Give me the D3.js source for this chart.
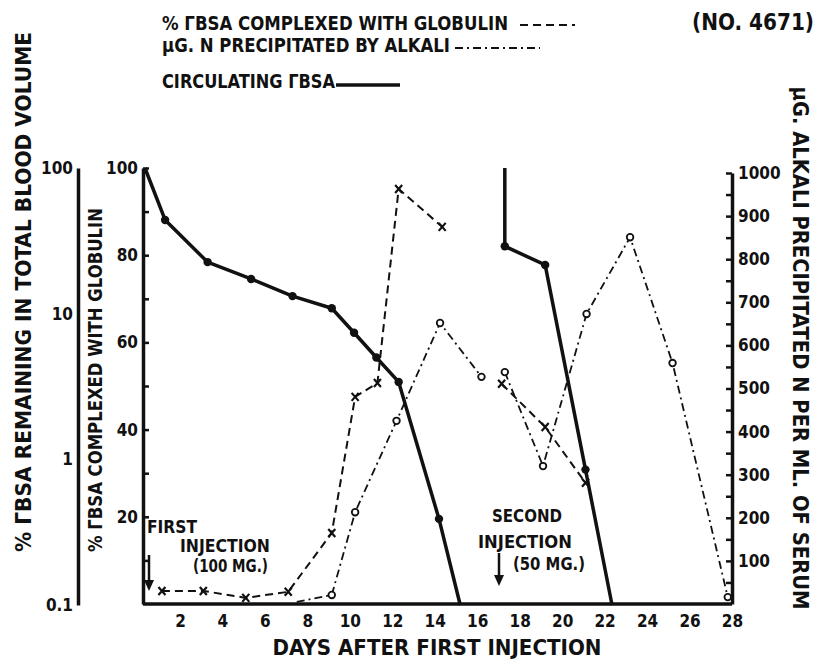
<!DOCTYPE html>
<html>
<head>
<meta charset="utf-8">
<script src="https://cdn.jsdelivr.net/npm/d3@7"></script>
<style>
  body { margin: 0; background: #fff; }
  svg { display: block; }
  text { font-family: 'Liberation Sans Narrow', 'DejaVu Sans Condensed', 'Liberation Sans', sans-serif; font-weight: bold; fill: #111; }
</style>
</head>
<body>
<div id="chart"></div>
<script>
// Circulating I*BSA, % remaining (log axis), two injections
const circDays1 = [0.35, 1.3, 3.3, 5.35, 7.3, 9.15, 10.2, 11.25, 12.3, 14.2, 15.2];
const circPct1 = [100, 44, 22.6, 17.3, 13.2, 10.9, 7.4, 5.0, 3.4, 0.39, 0.1];
const circDays2 = [17.3, 17.3, 19.2, 21.1, 22.35];
const circPct2 = [100, 29, 21.6, 0.85, 0.1];

// % complexed with globulin
const globDays1 = [1.15, 3.1, 5.1, 7.1, 9.15, 10.25, 11.3, 12.3, 14.35];
const globPct1 = [3, 3, 1.4, 2.8, 16.3, 47.5, 50.7, 95.2, 86.5];
const globDays2 = [17.15, 19.2, 21.1];
const globPct2 = [50.5, 40.6, 27.8];

// ug N precipitated by alkali
const alkDays1 = [7.5, 9.15, 10.25, 12.2, 14.25, 16.2];
const alkN1 = [5, 21, 213, 425, 652, 527];
const alkDays2 = [17.3, 19.1, 21.15, 23.2, 25.2, 27.8];
const alkN2 = [538, 320, 673, 851, 559, 16];

// ticks
const dayTicks = [2, 4, 6, 8, 10, 12, 14, 16, 18, 20, 22, 24, 26, 28];
const pctTicks = [10, 20, 30, 40, 50, 60, 70, 80, 90, 100];
const alkTicks = [50, 100, 150, 200, 250, 300, 350, 400, 450, 500, 550, 600, 650, 700, 750, 800, 850, 900, 950, 1000];
const logTicks = [0.1, 1, 10, 100];
const logLabels = ["0.1", "1", "10", "100"];

class InjectionChart {

  constructor(_config) {
    this.config = {
      parentElement: _config.parentElement,
      containerWidth: 822,
      containerHeight: 665,
      logAxisX: 78,
      pctAxisX: 143,
      alkAxisX: 732,
      baseY: 604
    };
    this.initVis();
  }

  initVis() {
    let vis = this;
    const c = vis.config;

    vis.svg = d3.select(c.parentElement).append('svg')
      .attr('width', c.containerWidth)
      .attr('height', c.containerHeight);

    vis.svg.append('rect')
      .attr('width', c.containerWidth)
      .attr('height', c.containerHeight)
      .attr('fill', '#fff');

    // Scales
    vis.x = d3.scaleLinear().domain([0, 28]).range([137.5, 732]);
    vis.yPct = d3.scaleLinear().domain([0, 100]).range([c.baseY, 168]);
    vis.yLog = d3.scaleLog().domain([0.1, 100]).range([605, 168]);
    vis.yAlk = d3.scaleLinear().domain([0, 1000]).range([c.baseY, 173]);

    vis.renderAxes();
    vis.renderVis();
    vis.renderText();
  }

  renderAxes() {
    let vis = this;
    const c = vis.config;

    // log axis on the far left
    const logAxis = vis.svg.append('g')
      .attr('transform', `translate(${c.logAxisX},0)`)
      .call(d3.axisLeft(vis.yLog).tickValues(logTicks).tickSize(0).tickPadding(5)
        .tickFormat((d, i) => logLabels[i]));
    logAxis.select('.domain').attr('stroke', '#111').attr('stroke-width', 3.5);
    logAxis.selectAll('text').attr('font-size', 17).attr('fill', '#111');

    // % complexed axis
    const pctAxis = vis.svg.append('g')
      .attr('transform', `translate(${c.pctAxisX},0)`)
      .call(d3.axisLeft(vis.yPct).tickValues(pctTicks).tickSizeInner(-6).tickSizeOuter(0).tickPadding(5)
        .tickFormat(d => d % 20 === 0 ? d : ''));
    pctAxis.select('.domain').attr('stroke', '#111').attr('stroke-width', 3.5);
    pctAxis.selectAll('.tick line').attr('stroke', '#111').attr('stroke-width', 2.5);
    pctAxis.selectAll('text').attr('font-size', 17).attr('fill', '#111');

    // alkali axis on the right
    const alkAxis = vis.svg.append('g')
      .attr('transform', `translate(${c.alkAxisX},0)`)
      .call(d3.axisRight(vis.yAlk).tickValues(alkTicks).tickSizeInner(-6).tickSizeOuter(0).tickPadding(6)
        .tickFormat(d => d % 100 === 0 ? d : ''));
    alkAxis.select('.domain').attr('stroke', '#111').attr('stroke-width', 3.5);
    alkAxis.selectAll('.tick line').attr('stroke', '#111').attr('stroke-width', 2.5);
    alkAxis.selectAll('text').attr('font-size', 17).attr('fill', '#111');

    // day axis
    const dayAxis = vis.svg.append('g')
      .attr('transform', `translate(0,${c.baseY})`)
      .call(d3.axisBottom(vis.x).tickValues(dayTicks).tickSize(0).tickPadding(11));
    dayAxis.select('.domain').remove();
    dayAxis.selectAll('text').attr('font-size', 17).attr('fill', '#111');

    vis.svg.append('line')
      .attr('x1', c.pctAxisX).attr('x2', c.alkAxisX)
      .attr('y1', c.baseY).attr('y2', c.baseY)
      .attr('stroke', '#111').attr('stroke-width', 3.5);
  }

  renderVis() {
    let vis = this;

    const lineLog = d3.line().x(d => vis.x(d[0])).y(d => vis.yLog(d[1]));
    const linePct = d3.line().x(d => vis.x(d[0])).y(d => vis.yPct(d[1]));
    const lineAlk = d3.line().x(d => vis.x(d[0])).y(d => vis.yAlk(d[1]));

    const circ = [d3.zip(circDays1, circPct1), d3.zip(circDays2, circPct2)];
    const glob = [d3.zip(globDays1, globPct1), d3.zip(globDays2, globPct2)];
    const alk = [d3.zip(alkDays1, alkN1), d3.zip(alkDays2, alkN2)];

    // dash-dot alkali
    vis.svg.selectAll('.alk-line').data(alk).join('path')
      .attr('class', 'alk-line')
      .attr('d', lineAlk)
      .attr('fill', 'none')
      .attr('stroke', '#111')
      .attr('stroke-width', 1.8)
      .attr('stroke-dasharray', '8,4,2,4');

    // dashed globulin
    vis.svg.selectAll('.glob-line').data(glob).join('path')
      .attr('class', 'glob-line')
      .attr('d', linePct)
      .attr('fill', 'none')
      .attr('stroke', '#111')
      .attr('stroke-width', 2)
      .attr('stroke-dasharray', '8,5');

    // solid circulating
    vis.svg.selectAll('.circ-line').data(circ).join('path')
      .attr('class', 'circ-line')
      .attr('d', lineLog)
      .attr('fill', 'none')
      .attr('stroke', '#111')
      .attr('stroke-width', 3.5)
      .attr('stroke-linejoin', 'round');

    // dots on interior points of the solid line
    const circDots = circ.flatMap(seg => seg.slice(1, -1));
    vis.svg.selectAll('.circ-dot').data(circDots).join('circle')
      .attr('class', 'circ-dot')
      .attr('cx', d => vis.x(d[0]))
      .attr('cy', d => vis.yLog(d[1]))
      .attr('r', 4.2)
      .attr('fill', '#111');

    // x markers
    vis.svg.selectAll('.glob-mark').data(glob.flat()).join('path')
      .attr('class', 'glob-mark')
      .attr('transform', d => `translate(${vis.x(d[0])},${vis.yPct(d[1])})`)
      .attr('d', 'M-3.5,-4L3.5,4M-3.5,4L3.5,-4')
      .attr('stroke', '#111')
      .attr('stroke-width', 2.2);

    // open circles
    const alkDots = alk.flatMap((seg, i) => i === 0 ? seg.slice(1) : seg);
    vis.svg.selectAll('.alk-dot').data(alkDots).join('circle')
      .attr('class', 'alk-dot')
      .attr('cx', d => vis.x(d[0]))
      .attr('cy', d => vis.yAlk(d[1]))
      .attr('r', 3.3)
      .attr('fill', '#fff')
      .attr('stroke', '#111')
      .attr('stroke-width', 1.8);
  }

  addText(txt, x, y, size, len, rotate) {
    let vis = this;
    const t = vis.svg.append('text')
      .attr('transform', `translate(${x},${y})` + (rotate ? ` rotate(${rotate})` : ''))
      .attr('font-size', size)
      .text(txt);
    if (len) t.attr('textLength', len).attr('lengthAdjust', 'spacingAndGlyphs');
    return t;
  }

  addArrow(x, y1, y2) {
    let vis = this;
    vis.svg.append('line')
      .attr('x1', x).attr('x2', x).attr('y1', y1).attr('y2', y2 - 8)
      .attr('stroke', '#111').attr('stroke-width', 2.5);
    vis.svg.append('path')
      .attr('d', `M${x - 5},${y2 - 11}L${x + 5},${y2 - 11}L${x},${y2}Z`)
      .attr('fill', '#111');
  }

  renderText() {
    let vis = this;

    // Legend
    vis.addText('% ΓBSA COMPLEXED WITH GLOBULIN', 162, 30, 19, 346);
    vis.addText('μG. N PRECIPITATED BY ALKALI', 162, 52, 19, 288);
    vis.addText('CIRCULATING ΓBSA', 162, 88, 19, 173);
    vis.addText('(NO. 4671)', 692, 30, 23, 122);

    const legendLine = (x1, x2, y, w, dash) => vis.svg.append('line')
      .attr('x1', x1).attr('x2', x2).attr('y1', y).attr('y2', y)
      .attr('stroke', '#111').attr('stroke-width', w)
      .attr('stroke-dasharray', dash);
    legendLine(520, 575, 25, 2, '8,5');
    legendLine(455, 540, 48, 1.8, '8,4,2,4');
    legendLine(336, 400, 85, 3.5, null);

    // Axis titles
    vis.addText('% ΓBSA REMAINING IN TOTAL BLOOD VOLUME', 31, 292, 22, 520, -90).attr('text-anchor', 'middle');
    vis.addText('% ΓBSA COMPLEXED WITH GLOBULIN', 102, 380, 19, 344, -90).attr('text-anchor', 'middle');
    vis.addText('μG. ALKALI PRECIPITATED N PER ML. OF SERUM', 793, 348, 22, 523, 90).attr('text-anchor', 'middle');
    vis.addText('DAYS AFTER FIRST INJECTION', 437, 655, 22, 329).attr('text-anchor', 'middle');

    // Injection notes
    vis.addText('FIRST', 147, 533, 17, 50);
    vis.addText('INJECTION', 180, 552, 17, 90);
    vis.addText('(100 MG.)', 193, 572, 17, 75);
    vis.addArrow(149, 555, 591);

    vis.addText('SECOND', 492, 522, 17, 70);
    vis.addText('INJECTION', 478, 548, 17, 94);
    vis.addText('(50 MG.)', 513, 570, 17, 72);
    vis.addArrow(499, 553, 586);
  }
}

new InjectionChart({ parentElement: '#chart' });
</script>
</body>
</html>
